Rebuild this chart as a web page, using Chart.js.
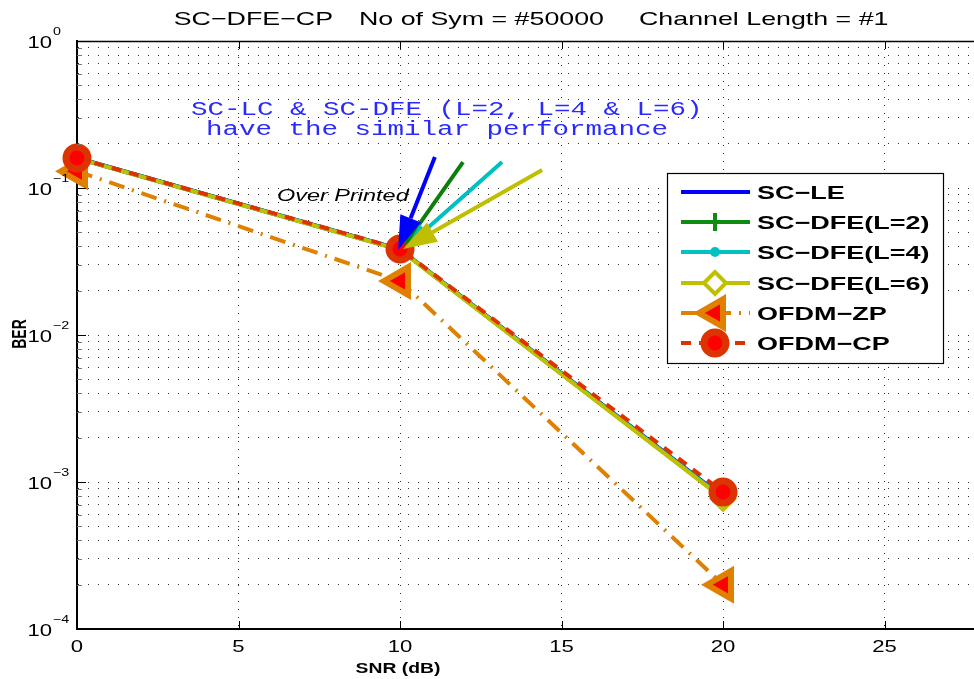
<!DOCTYPE html>
<html>
<head>
<meta charset="utf-8">
<title>SC-DFE-CP BER</title>
<script src="https://cdn.jsdelivr.net/npm/chart.js@4/dist/chart.umd.min.js"></script>
<style>
  html, body { margin: 0; padding: 0; background: #ffffff; }
  #wrap { width: 974px; height: 679px; }
</style>
</head>
<body>
<div id="wrap"><canvas id="ber" width="974" height="679"></canvas></div>
<script>
// ---- data ----
const snr = [0, 10, 20];
const berScLe    = [0.160, 0.0382, 7.9e-4];
const berScDfe2  = [0.160, 0.0381, 7.8e-4];
const berScDfe4  = [0.159, 0.0380, 7.8e-4];
const berScDfe6  = [0.159, 0.0379, 7.7e-4];
const berOfdmZp  = [0.130, 0.0233, 2.0e-4];
const berOfdmCp  = [0.160, 0.0385, 8.55e-4];
const seriesNames = ['SC\u2212LE', 'SC\u2212DFE(L=2)', 'SC\u2212DFE(L=4)', 'SC\u2212DFE(L=6)', 'OFDM\u2212ZP', 'OFDM\u2212CP'];

const xTicks = [0, 5, 10, 15, 20, 25];
const yTickExps = [0, -1, -2, -3, -4];

const titleParts = ['SC\u2212DFE\u2212CP', 'No of Sym = #50000', 'Channel Length = #1'];
const noteLines = ['SC-LC & SC-DFE (L=2, L=4 & L=6)', 'have the similar performance'];
const overPrintedText = 'Over Printed';

// arrows (data units): tails and tips pointing at the 10 dB point
const arrowTails = [[11.95, 0.150], [13.16, 0.150], [14.40, 0.1325], [11.08, 0.1625]];
const arrowTips  = [[10.12, 0.0403], [10.22, 0.0403], [10.09, 0.0385], [9.94, 0.0379]];
const arrowColors = ['#0a800a', '#00bfbf', '#bfbf00', '#0000ff'];

// ---- styles ----
const C_BLUE = '#0000ff', C_GREEN = '#108a10', C_CYAN = '#00c0c0', C_OLIVE = '#c0c000';
const C_ORANGE = '#e08000', C_RED = '#ff0000', C_REDEDGE = '#dd3300';
const SX = 1.38; // horizontal text stretch

function mk(label, data, color, extra, order) {
  return Object.assign({
    label: label,
    data: snr.map((x, i) => ({ x: x, y: data[i] })),
    borderColor: color,
    backgroundColor: color,
    borderWidth: 4,
    fill: false,
    tension: 0,
    clip: false,
    order: order
  }, extra);
}

const datasets = [
  mk(seriesNames[0], berScLe, C_BLUE, { pointRadius: 0 }, 6),
  mk(seriesNames[1], berScDfe2, C_GREEN, { pointStyle: 'cross', pointRadius: 9, pointBorderWidth: 4, pointBorderColor: C_GREEN }, 5),
  mk(seriesNames[2], berScDfe4, C_CYAN, { pointStyle: 'circle', pointRadius: 4, pointBorderWidth: 2, pointBackgroundColor: C_CYAN, pointBorderColor: C_CYAN }, 4),
  mk(seriesNames[3], berScDfe6, C_OLIVE, { pointStyle: 'rectRot', pointRadius: 11, pointBorderWidth: 4, pointBackgroundColor: '#ffffff', pointBorderColor: C_OLIVE }, 3),
  mk(seriesNames[4], berOfdmZp, C_ORANGE, { borderDash: [16, 8, 2, 8], pointStyle: 'triangle', pointRotation: -90, pointRadius: 16, pointBorderWidth: 6, pointBackgroundColor: C_RED, pointBorderColor: C_ORANGE }, 2),
  mk(seriesNames[5], berOfdmCp, C_REDEDGE, { borderDash: [10, 8], pointStyle: 'circle', pointRadius: 11, pointBorderWidth: 7, pointBackgroundColor: C_RED, pointBorderColor: C_REDEDGE }, 1)
];

function stretchText(ctx, str, x, y, font, align, sx, color) {
  ctx.save();
  ctx.font = font;
  ctx.fillStyle = color || '#000';
  ctx.textAlign = align;
  ctx.textBaseline = 'alphabetic';
  ctx.translate(x, y);
  ctx.scale(sx, 1);
  ctx.fillText(str, 0, 0);
  ctx.restore();
}

function drawArrow(ctx, x1, y1, x2, y2, color, lw, headLen, headHalf) {
  const ang = Math.atan2(y2 - y1, x2 - x1);
  const bx = x2 - Math.cos(ang) * headLen, by = y2 - Math.sin(ang) * headLen;
  ctx.save();
  ctx.strokeStyle = color; ctx.fillStyle = color; ctx.lineWidth = lw; ctx.setLineDash([]);
  ctx.beginPath(); ctx.moveTo(x1, y1); ctx.lineTo(bx, by); ctx.stroke();
  ctx.beginPath();
  ctx.moveTo(x2, y2);
  ctx.lineTo(bx + Math.sin(ang) * headHalf, by - Math.cos(ang) * headHalf);
  ctx.lineTo(bx - Math.sin(ang) * headHalf, by + Math.cos(ang) * headHalf);
  ctx.closePath(); ctx.fill();
  ctx.restore();
}

const decor = {
  id: 'decor',
  afterDatasetsDraw(chart) {
    const ctx = chart.ctx;
    const xs = chart.scales.x, ys = chart.scales.y;
    const a = chart.chartArea;

    // top frame line
    ctx.save();
    ctx.strokeStyle = '#000'; ctx.lineWidth = 1.5;
    ctx.beginPath(); ctx.moveTo(a.left, a.top + 0.5); ctx.lineTo(a.right, a.top + 0.5); ctx.stroke();

    // inward tick marks
    ctx.lineWidth = 1;
    xTicks.forEach(v => {
      const px = Math.round(xs.getPixelForValue(v)) + 0.5;
      ctx.strokeStyle = '#000';
      ctx.beginPath(); ctx.moveTo(px, a.bottom); ctx.lineTo(px, a.bottom - 8); ctx.stroke();
      ctx.beginPath(); ctx.moveTo(px, a.top); ctx.lineTo(px, a.top + 8); ctx.stroke();
    });
    ys.ticks.forEach(t => {
      const py = Math.round(ys.getPixelForValue(t.value)) + 0.5;
      const major = Math.abs(Math.log10(t.value) - Math.round(Math.log10(t.value))) < 1e-9;
      ctx.strokeStyle = major ? '#000' : '#777';
      ctx.beginPath(); ctx.moveTo(a.left, py); ctx.lineTo(a.left + (major ? 9 : 5), py); ctx.stroke();
    });
    ctx.restore();

    // tick labels
    xTicks.forEach(v => {
      stretchText(ctx, String(v), xs.getPixelForValue(v), a.bottom + 23, '17px "Liberation Sans", Arial, sans-serif', 'center', 1.3);
    });
    yTickExps.forEach(e => {
      const py = ys.getPixelForValue(Math.pow(10, e));
      stretchText(ctx, '10', 52, py + 7, '17px "Liberation Sans", Arial, sans-serif', 'right', 1.3);
      stretchText(ctx, e === 0 ? '0' : '\u2212' + Math.abs(e), 53, py - 6, '11px "Liberation Sans", Arial, sans-serif', 'left', 1.3);
    });

    // axis titles
    stretchText(ctx, 'SNR (dB)', 398, 673, 'bold 14px "Liberation Sans", Arial, sans-serif', 'center', SX);
    ctx.save();
    ctx.translate(26, 334);
    ctx.scale(SX, 1);
    ctx.rotate(-Math.PI / 2);
    ctx.font = 'bold 14px "Liberation Sans", Arial, sans-serif';
    ctx.fillStyle = '#000'; ctx.textAlign = 'center'; ctx.textBaseline = 'alphabetic';
    ctx.fillText('BER', 0, 0);
    ctx.restore();

    // title
    const tf = '19px "Liberation Sans", Arial, sans-serif';
    stretchText(ctx, titleParts[0], 333, 25, tf, 'right', 1.41);
    stretchText(ctx, titleParts[1], 359, 25, tf, 'left', 1.41);
    stretchText(ctx, titleParts[2], 639, 25, tf, 'left', 1.41);

    // blue note
    const mf = '20px "Liberation Mono", "DejaVu Sans Mono", monospace';
    stretchText(ctx, noteLines[0], 191, 115, mf, 'left', 1.375, '#2a2aff');
    stretchText(ctx, noteLines[1], 206, 135, mf, 'left', 1.375, '#2a2aff');

    // over printed label
    stretchText(ctx, overPrintedText, 277, 201, 'italic 17px "Liberation Sans", Arial, sans-serif', 'left', SX);

    // arrows
    arrowTails.forEach((t, i) => {
      const x1 = xs.getPixelForValue(t[0]), y1 = ys.getPixelForValue(t[1]);
      const x2 = xs.getPixelForValue(arrowTips[i][0]), y2 = ys.getPixelForValue(arrowTips[i][1]);
      const big = i >= 2;
      drawArrow(ctx, x1, y1, x2, y2, arrowColors[i], 4, big ? 34 : 24, big ? 11 : 8);
    });

    // legend
    const lx = 667, ly = 173, lw = 276, lh = 190;
    ctx.save();
    ctx.fillStyle = '#fff'; ctx.fillRect(lx, ly, lw, lh);
    ctx.strokeStyle = '#000'; ctx.lineWidth = 1.2;
    ctx.strokeRect(lx + 0.5, ly + 0.5, lw, lh);
    ctx.restore();
    const rowY = [192, 222, 252, 283, 313, 343];
    datasets.forEach((ds, i) => {
      const cy = rowY[i];
      ctx.save();
      ctx.strokeStyle = ds.borderColor; ctx.lineWidth = ds.borderWidth;
      ctx.setLineDash(ds.borderDash || []);
      ctx.beginPath(); ctx.moveTo(681, cy); ctx.lineTo(750, cy); ctx.stroke();
      ctx.setLineDash([]);
      if (ds.pointRadius > 0) {
        ctx.fillStyle = ds.pointBackgroundColor || ds.borderColor;
        ctx.strokeStyle = ds.pointBorderColor || ds.borderColor;
        ctx.lineWidth = ds.pointBorderWidth;
        Chart.helpers.drawPoint(ctx, {
          pointStyle: ds.pointStyle, radius: ds.pointRadius,
          rotation: ds.pointRotation || 0, borderWidth: ds.pointBorderWidth
        }, 715, cy);
      }
      ctx.restore();
      stretchText(ctx, ds.label, 757, cy + 7, 'bold 19px "Liberation Sans", Arial, sans-serif', 'left', 1.42);
    });
  }
};

new Chart(document.getElementById('ber'), {
  type: 'line',
  data: { datasets: datasets },
  options: {
    responsive: false,
    animation: false,
    devicePixelRatio: 1,
    layout: { autoPadding: false, padding: { left: 77, top: 41, right: 0, bottom: 50 } },
    plugins: { legend: { display: false }, tooltip: { enabled: false }, title: { display: false } },
    scales: {
      x: {
        type: 'linear', min: 0, max: 27.77,
        afterBuildTicks: s => { s.ticks = xTicks.map(v => ({ value: v })); },
        ticks: { display: false, autoSkip: false },
        grid: { color: '#303030', lineWidth: 1, drawTicks: false },
        border: { display: true, color: '#000', width: 2, dash: [1, 7] }
      },
      y: {
        type: 'logarithmic', min: 1e-4, max: 1,
        afterBuildTicks: s => {
          const t = [];
          for (let e = -4; e < 0; e++) for (let m = 1; m <= 9; m++) t.push({ value: m * Math.pow(10, e) });
          t.push({ value: 1 });
          s.ticks = t;
        },
        ticks: { display: false, autoSkip: false },
        grid: { color: '#303030', lineWidth: 1, drawTicks: false },
        border: { display: true, color: '#000', width: 2, dash: [1, 9] }
      }
    }
  },
  plugins: [decor]
});
</script>
</body>
</html>
